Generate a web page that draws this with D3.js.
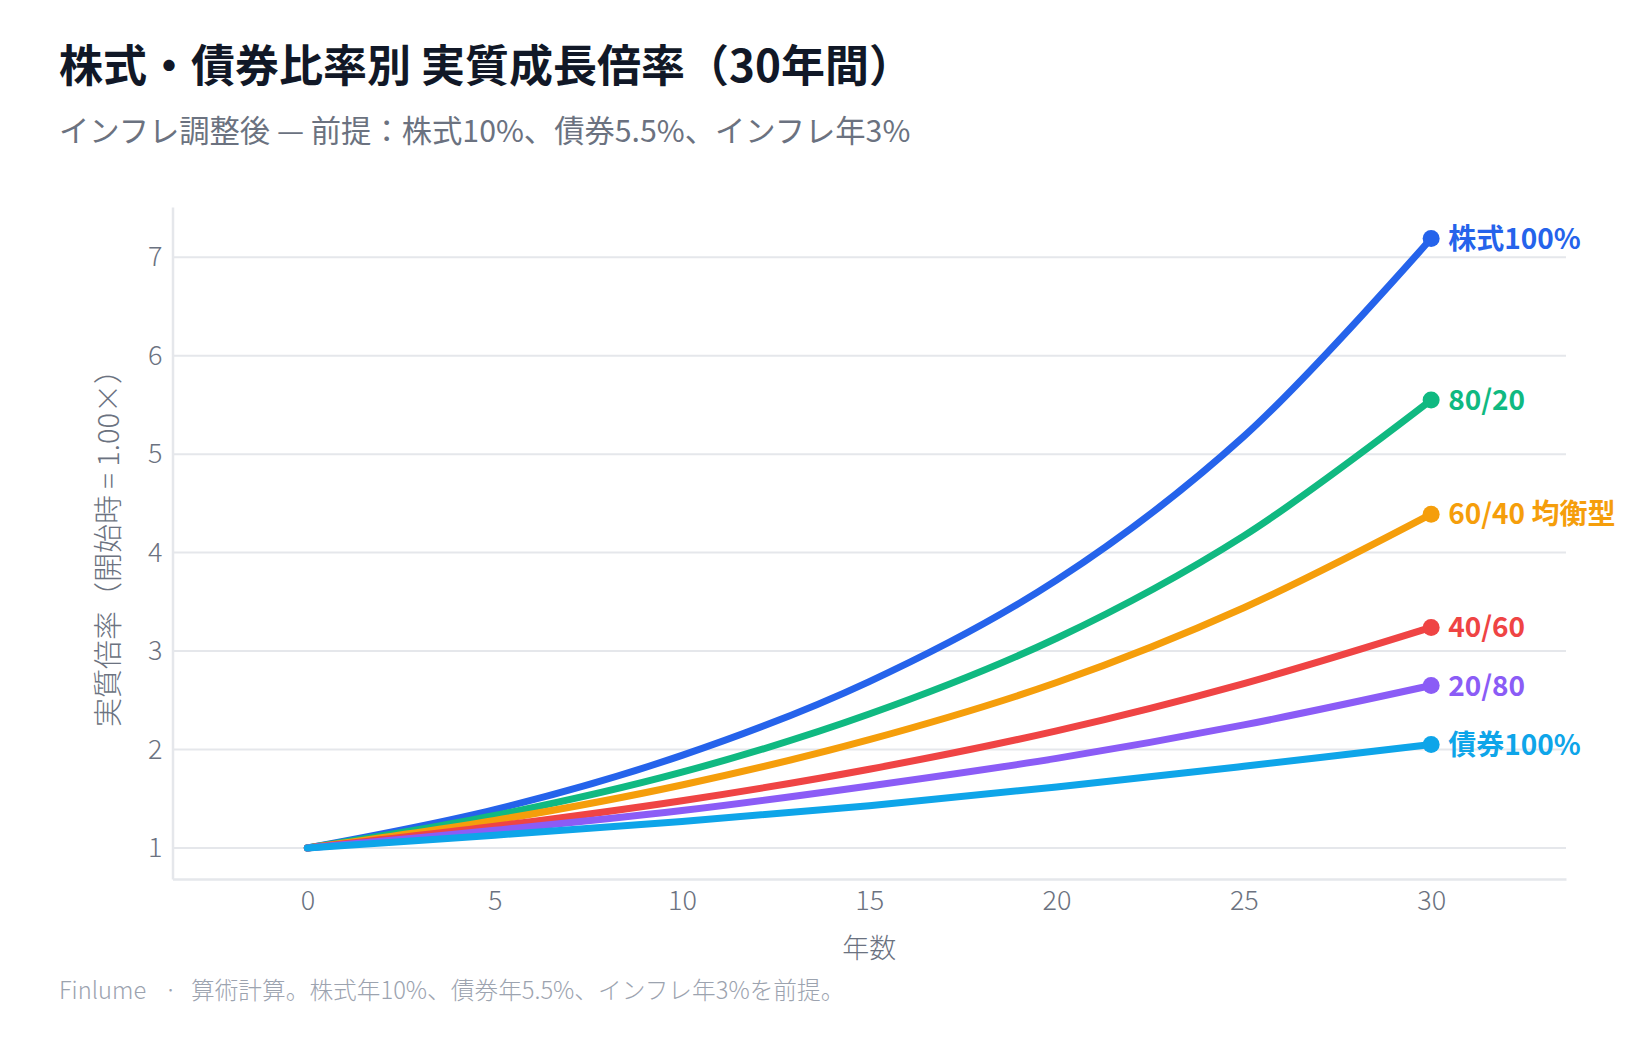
<!DOCTYPE html>
<html>
<head>
<meta charset="utf-8">
<script src="https://cdn.jsdelivr.net/npm/d3@7"></script>
<style>
  html, body { margin: 0; padding: 0; background: #ffffff; }
  svg { display: block; font-family: "Noto Sans CJK JP", "Noto Sans", sans-serif; }
</style>
</head>
<body>
<svg id="chart" width="1639" height="1040"></svg>
<script>
// ---- Data ----
const years = [0, 5, 10, 15, 20, 25, 30];
const seriesNames = ["株式100%", "80/20", "60/40 均衡型", "40/60", "20/80", "債券100%"];
const seriesColors = ["#2563eb", "#10b981", "#f59e0b", "#ef4444", "#8b5cf6", "#0ea5e9"];
const stocks100 = [1.00, 1.39, 1.94, 2.69, 3.72, 5.18, 7.19];
const mix8020   = [1.00, 1.33, 1.77, 2.36, 3.13, 4.17, 5.55];
const mix6040   = [1.00, 1.28, 1.64, 2.10, 2.68, 3.44, 4.39];
const mix4060   = [1.00, 1.22, 1.48, 1.80, 2.19, 2.67, 3.24];
const mix2080   = [1.00, 1.18, 1.38, 1.63, 1.91, 2.25, 2.65];
const bonds100  = [1.00, 1.13, 1.27, 1.43, 1.62, 1.83, 2.05];
const seriesValues = [stocks100, mix8020, mix6040, mix4060, mix2080, bonds100];
const xTicks = [0, 5, 10, 15, 20, 25, 30];
const yTicks = [1, 2, 3, 4, 5, 6, 7];

const titleText = "株式・債券比率別 実質成長倍率（30年間）";
const subtitleText = "インフレ調整後 — 前提：株式10%、債券5.5%、インフレ年3%";
const xTitle = "年数";
const yTitle = "実質倍率（開始時 = 1.00×）";
const footerBrand = "Finlume";
const footerNote = "算術計算。株式年10%、債券年5.5%、インフレ年3%を前提。";

// ---- Layout ----
const svg = d3.select("#chart");
const plot = { left: 172.5, right: 1566, top: 207, bottom: 879 };

const x = d3.scaleLinear().domain([-3.6, 33.6]).range([plot.left, plot.right]);
const y = d3.scaleLinear().domain([0.685, 7.51]).range([plot.bottom, plot.top]);

const gridColor = "#e5e7eb";
const tickColor = "#6b7280";

// Title & subtitle
svg.append("text").attr("x", 59).attr("y", 82)
  .attr("font-size", 44).attr("font-weight", 700).attr("fill", "#111827")
  .text(titleText);
svg.append("text").attr("x", 59).attr("y", 142)
  .attr("font-size", 30.3).attr("font-weight", 400).attr("fill", "#6b7280")
  .text(subtitleText);

// Gridlines
svg.append("g").selectAll("line").data(yTicks).join("line")
  .attr("x1", plot.left).attr("x2", plot.right)
  .attr("y1", d => y(d)).attr("y2", d => y(d))
  .attr("stroke", gridColor).attr("stroke-width", 2);

// Axes
const yAxis = d3.axisLeft(y).tickValues(yTicks).tickSize(0).tickPadding(10).tickFormat(d3.format("d"));
const gy = svg.append("g").attr("transform", `translate(${plot.left},0)`).call(yAxis);
gy.select(".domain").attr("stroke", gridColor).attr("stroke-width", 2.5);
gy.selectAll("text").attr("font-size", 27).attr("fill", tickColor)
  .attr("font-family", "'Noto Sans CJK JP', sans-serif").attr("font-weight", 300);

const xAxis = d3.axisBottom(x).tickValues(xTicks).tickSize(0).tickPadding(12).tickFormat(d3.format("d"));
const gx = svg.append("g").attr("transform", `translate(0,${plot.bottom})`).call(xAxis);
gx.select(".domain").attr("stroke", gridColor).attr("stroke-width", 2.5);
gx.selectAll("text").attr("font-size", 27).attr("fill", tickColor)
  .attr("font-family", "'Noto Sans CJK JP', sans-serif").attr("font-weight", 300);

// Axis titles
svg.append("text").attr("x", x(15)).attr("y", 958)
  .attr("text-anchor", "middle").attr("font-size", 27).attr("font-weight", 300).attr("fill", tickColor)
  .text(xTitle);
svg.append("text")
  .attr("transform", `translate(${111},${(plot.top + plot.bottom) / 2 - 2}) rotate(-90)`)
  .attr("text-anchor", "middle").attr("dominant-baseline", "middle")
  .attr("font-size", 29).attr("font-weight", 300).attr("fill", tickColor)
  .text(yTitle);

// Lines
const line = d3.line()
  .x(d => x(d[0])).y(d => y(d[1]))
  .curve(d3.curveCatmullRom.alpha(0.5));

const series = seriesNames.map((name, i) => ({
  name, color: seriesColors[i],
  points: years.map((yr, j) => [yr, seriesValues[i][j]])
}));

const gLines = svg.append("g");
series.forEach(s => {
  gLines.append("path").attr("d", line(s.points))
    .attr("fill", "none").attr("stroke", s.color)
    .attr("stroke-width", 7).attr("stroke-linecap", "round").attr("stroke-linejoin", "round");
});
series.forEach(s => {
  const last = s.points[s.points.length - 1];
  gLines.append("circle").attr("cx", x(last[0])).attr("cy", y(last[1]))
    .attr("r", 8.5).attr("fill", s.color);
  gLines.append("text").attr("x", x(last[0]) + 17).attr("y", y(last[1]) - 2)
    .attr("dominant-baseline", "central")
    .attr("font-size", 28).attr("font-weight", 700).attr("fill", s.color)
    .text(s.name);
});

// Footer
const footer = svg.append("text").attr("x", 59).attr("y", 999)
  .attr("font-size", 23.7).attr("font-weight", 300).attr("fill", "#9ca3af");
footer.append("tspan").text(footerBrand);
footer.append("tspan").attr("dx", 18).text("·");
footer.append("tspan").attr("dx", 14).text(footerNote);
</script>
</body>
</html>
